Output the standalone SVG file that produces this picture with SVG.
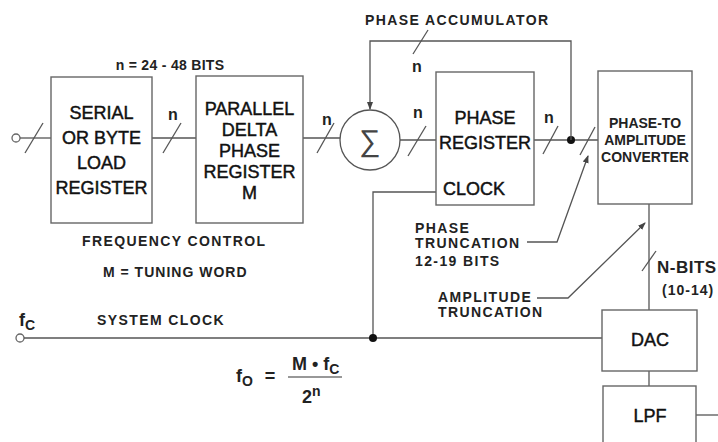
<svg xmlns="http://www.w3.org/2000/svg" width="718" height="442" viewBox="0 0 718 442">
<style>
.box{fill:#fff;stroke:#666;stroke-width:1.4}
.ln{fill:none;stroke:#555;stroke-width:1.3}
.big{font-family:"Liberation Sans",Arial,sans-serif;font-size:18px;fill:#111;stroke:#111;stroke-width:0.45px;text-anchor:middle}
.lab{font-family:"Liberation Sans",Arial,sans-serif;font-size:14px;font-weight:bold;fill:#222;letter-spacing:1.4px}
.ptc{font-family:"Liberation Sans",Arial,sans-serif;font-size:14px;font-weight:bold;fill:#222;text-anchor:middle}
.n{font-family:"Liberation Sans",Arial,sans-serif;font-size:16px;font-weight:bold;fill:#222;text-anchor:middle}
.fm{font-family:"Liberation Sans",Arial,sans-serif;font-size:18px;font-weight:bold;fill:#222}
</style>
<defs>
<marker id="ah" markerWidth="8" markerHeight="8" refX="7" refY="4" orient="auto" markerUnits="userSpaceOnUse">
<path d="M0,1 L8,4 L0,7 Z" fill="#444"/>
</marker>
</defs>
<rect width="718" height="442" fill="#fff"/>

<g id="connectors">
<circle cx="16" cy="138" r="4" fill="#fff" stroke="#666" stroke-width="1.3"/>
<line class="ln" x1="20" y1="138" x2="51" y2="138"/>
<line class="ln" x1="25" y1="153" x2="43" y2="123"/>
<line class="ln" x1="152" y1="138" x2="196" y2="138"/>
<line class="ln" x1="163" y1="153" x2="181" y2="123"/>
<line class="ln" x1="303" y1="138" x2="340" y2="138"/>
<line class="ln" x1="317" y1="153" x2="334" y2="123"/>
<line class="ln" x1="400" y1="140" x2="436" y2="140"/>
<line class="ln" x1="408" y1="156" x2="426" y2="126"/>
<line class="ln" x1="534" y1="140" x2="598" y2="140"/>
<line class="ln" x1="543" y1="154" x2="558" y2="126"/>
<line class="ln" x1="580" y1="155" x2="595" y2="127"/>
<circle cx="571" cy="140" r="4" fill="#111"/>
<path class="ln" d="M571,140 V41 H370 V109" marker-end="url(#ah)"/>
<line class="ln" x1="413" y1="54" x2="428" y2="30"/>
<path class="ln" d="M436,192 H373 V338"/>
<circle cx="20" cy="338" r="4" fill="#fff" stroke="#666" stroke-width="1.3"/>
<line class="ln" x1="24" y1="338" x2="602" y2="338"/>
<circle cx="373" cy="338" r="4" fill="#111"/>
<line class="ln" x1="649" y1="204" x2="649" y2="310"/>
<line class="ln" x1="642" y1="271" x2="656" y2="251"/>
<line class="ln" x1="649" y1="371" x2="649" y2="386"/>
<line class="ln" x1="696" y1="415" x2="718" y2="415"/>
<path class="ln" d="M527,242 H557 L588,156" marker-end="url(#ah)"/>
<path class="ln" d="M537,298 H568 L645,223" marker-end="url(#ah)"/>
</g>

<g id="serial-register">
<rect class="box" x="51" y="77" width="101" height="146"/>
<text class="big" x="101.5" y="118.5">SERIAL</text>
<text class="big" x="101.5" y="143.5">OR BYTE</text>
<text class="big" x="101.5" y="168.5">LOAD</text>
<text class="big" x="101.5" y="193.5">REGISTER</text>
</g>

<g id="delta-register">
<rect class="box" x="196" y="76" width="107" height="147"/>
<text class="big" x="249.5" y="114.5">PARALLEL</text>
<text class="big" x="249.5" y="135.5">DELTA</text>
<text class="big" x="249.5" y="156.5">PHASE</text>
<text class="big" x="249.5" y="177.5">REGISTER</text>
<text class="big" x="249.5" y="198.5">M</text>
</g>

<g id="adder">
<circle cx="370" cy="140" r="30" fill="#fff" stroke="#555" stroke-width="1.3"/>
<text x="370" y="151" font-family="DejaVu Sans, sans-serif" font-weight="200" font-size="30" fill="#444" text-anchor="middle">∑</text>
</g>

<g id="phase-register">
<rect class="box" x="436" y="72" width="98" height="133"/>
<text class="big" x="485" y="123.5">PHASE</text>
<text class="big" x="485" y="148.5">REGISTER</text>
<text class="big" x="443" y="194.5" style="text-anchor:start">CLOCK</text>
</g>

<g id="converter">
<rect class="box" x="598" y="71" width="94" height="133"/>
<text class="ptc" x="645" y="128">PHASE-TO</text>
<text class="ptc" x="645" y="145">AMPLITUDE</text>
<text class="ptc" x="645" y="162">CONVERTER</text>
</g>

<g id="dac">
<rect class="box" x="602" y="310" width="95" height="61"/>
<text class="big" x="650" y="345.5">DAC</text>
</g>

<g id="lpf">
<rect class="box" x="603" y="386" width="93" height="60"/>
<text class="big" x="650" y="421.5">LPF</text>
</g>

<g id="labels">
<text class="lab" x="170" y="70" style="letter-spacing:0.3px;text-anchor:middle">n = 24 - 48 BITS</text>
<text class="n" x="173" y="120">n</text>
<text class="n" x="327" y="125">n</text>
<text class="n" x="418" y="118">n</text>
<text class="n" x="549" y="123">n</text>
<text class="n" x="417" y="72">n</text>
<text class="lab" x="365" y="25">PHASE ACCUMULATOR</text>
<text class="lab" x="82" y="246">FREQUENCY CONTROL</text>
<text class="lab" x="103" y="277" style="letter-spacing:1px">M = TUNING WORD</text>
<text class="lab" x="97" y="325">SYSTEM CLOCK</text>
<text class="lab" x="415" y="233">PHASE</text>
<text class="lab" x="415" y="248">TRUNCATION</text>
<text class="lab" x="415" y="266">12-19 BITS</text>
<text class="lab" x="438" y="302">AMPLITUDE</text>
<text class="lab" x="438" y="317">TRUNCATION</text>
<text class="lab" x="657" y="273" style="font-size:17px;letter-spacing:0.5px">N-BITS</text>
<text class="lab" x="662" y="295" style="letter-spacing:1px">(10-14)</text>
<text class="fm" x="19" y="326">f<tspan font-size="14" dy="4">C</tspan></text>
</g>

<g id="formula">
<text class="fm" x="236" y="382">f<tspan font-size="14" dy="4">O</tspan></text>
<text class="fm" x="270" y="382" style="text-anchor:middle">=</text>
<line x1="288" y1="377" x2="342" y2="377" stroke="#333" stroke-width="1.2"/>
<text class="fm" x="292" y="370">M • f<tspan font-size="14" dy="4">C</tspan></text>
<text class="fm" x="302" y="403">2<tspan font-size="14" dy="-7">n</tspan></text>
</g>
</svg>
